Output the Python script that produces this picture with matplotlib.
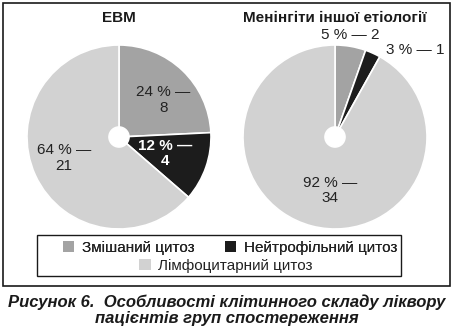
import matplotlib.pyplot as plt
from matplotlib.patches import Rectangle, Patch, Circle

# Data
categories = ['Змішаний цитоз', 'Нейтрофільний цитоз', 'Лімфоцитарний цитоз']
colors = ['#a3a3a3', '#1c1c1c', '#d2d2d2']
ebm_counts = [8, 4, 21]
ebm_pct = [24, 12, 64]
other_counts = [2, 1, 34]
other_pct = [5, 3, 92]
titles = ['ЕВМ', 'Менінгіти іншої етіології']
caption = 'Рисунок 6.  Особливості клітинного складу ліквору\nпацієнтів груп спостереження'

W, H = 453, 331
fig = plt.figure(figsize=(W / 100, H / 100), dpi=100)
plt.rcParams['font.family'] = ['Liberation Sans', 'DejaVu Sans']


def px_axes(cx, cy, r):
    # axes box (in figure fractions) for a pie centred at pixel (cx, cy) with radius r
    return [(cx - r) / W, (H - cy - r) / H, 2 * r / W, 2 * r / H]


def draw_pie(ax, counts, title, title_y):
    ax.pie(counts, colors=colors, startangle=90, counterclock=False,
           radius=1, wedgeprops=dict(edgecolor='white', linewidth=1.2))
    ax.add_patch(Circle((0, 0), 0.11, color='white', zorder=5))
    ax.set_xlim(-1, 1)
    ax.set_ylim(-1, 1)
    ax.set_aspect('equal')
    ax.axis('off')
    ax.text(0, title_y, title, ha='center', va='center', fontsize=11,
            fontweight='bold', color='#1a1a1a', clip_on=False)


lbl = dict(ha='center', va='center', fontsize=11, color='#222222', linespacing=1.15)

# Left pie
ax1 = fig.add_axes(px_axes(119, 137, 92))
draw_pie(ax1, ebm_counts, titles[0], 1.29)
ax1.text(0.48, 0.40, f'{ebm_pct[0]} % —\n{ebm_counts[0]}', **lbl)
ax1.text(0.5, -0.18, f'{ebm_pct[1]} % —\n{ebm_counts[1]}',
         **{**lbl, 'color': 'white', 'fontweight': 'bold'})
ax1.text(-0.6, -0.23, f'{ebm_pct[2]} % —\n{ebm_counts[2]}', **lbl)

# Right pie
ax2 = fig.add_axes(px_axes(335, 137, 92))
draw_pie(ax2, other_counts, titles[1], 1.29)
ax2.text(0.17, 1.11, f'{other_pct[0]} % — {other_counts[0]}', **lbl)
ax2.text(0.87, 0.95, f'{other_pct[1]} % — {other_counts[1]}', **lbl)
ax2.text(-0.05, -0.58, f'{other_pct[2]} % —\n{other_counts[2]}', **lbl)

# Outer frame and legend box
fig.patches.append(Rectangle((3 / W, 1 - 286 / H), 447 / W, 283 / H, transform=fig.transFigure,
                             fill=False, edgecolor='#1a1a1a', linewidth=1.2))
fig.patches.append(Rectangle((37 / W, 1 - 276 / H), 364 / W, 41 / H, transform=fig.transFigure,
                             fill=False, edgecolor='#1a1a1a', linewidth=1.0))

handles = [Patch(facecolor=c, edgecolor='none') for c in colors]
leg_kw = dict(frameon=False, fontsize=11, loc='center', handlelength=0.75, handleheight=0.75,
              handletextpad=0.5, borderpad=0, labelcolor='#222222')
leg1 = fig.legend(handles[:2], categories[:2], ncol=2, columnspacing=2.0,
                  bbox_to_anchor=(230 / W, 1 - 248 / H), **leg_kw)
leg2 = fig.legend(handles[2:], categories[2:], bbox_to_anchor=(226 / W, 1 - 266 / H), **leg_kw)
fig.add_artist(leg1)

# Caption
fig.text(227 / W, 1 - 310 / H, caption, ha='center', va='center', fontsize=12,
         fontweight='bold', fontstyle='italic', color='#1a1a1a', linespacing=1.1)

fig.savefig('out.png', dpi=100)
